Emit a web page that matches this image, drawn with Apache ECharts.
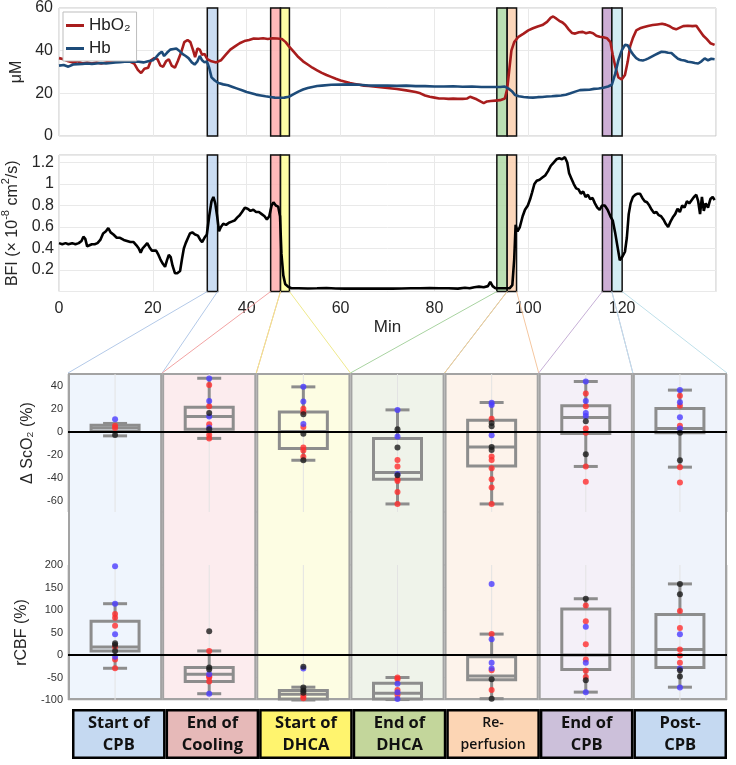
<!DOCTYPE html>
<html><head><meta charset="utf-8">
<script src="https://cdn.jsdelivr.net/npm/echarts@6/dist/echarts.min.js"></script>
<style>html,body{margin:0;padding:0;background:#fff}#c{width:736px;height:765px}</style>
</head><body><div id="c"></div>
<script>
// ---------- DATA ----------
const hbo2 = [[0,36.5],[1,36],[2,35],[3,34.5],[4,35],[5,34],[6,34.5],[7,34],[8,34.5],[9,34],[10,34.5],[11,35],[12,35],[13,35.5],[14,35],[15,35],[16,34],[16.8,31],[17.5,29.5],[18.2,31.5],[19,32],[19.6,35.5],[20.3,36.5],[21,36],[21.6,33],[22.2,32.5],[22.8,35],[23.4,36],[24,33],[24.7,32],[25.3,35],[26,39],[26.7,44],[27.4,45],[28,44],[28.6,40],[29,37],[29.5,41],[30,40.5],[30.5,38],[31,38.5],[31.6,36],[32.5,35],[33.5,34.5],[34.5,35.5],[35.5,38],[36.5,40.5],[37.5,42],[38.5,43.5],[39.5,44.5],[40.5,45],[41.5,45.7],[42.5,45.6],[43.5,45.8],[44.5,45.5],[45.5,45.8],[46.5,45.7],[47.5,45.5],[48.3,44],[49,42],[50,39.5],[51,37],[52,35],[53,33.5],[54,32],[55,30.8],[56,29.6],[57,28.6],[58,27.7],[59,26.8],[60,26],[61,25.4],[62,24.8],[63,24.4],[64,24],[65,23.6],[66,23.4],[68,23],[70,22.5],[72,22],[74,21.4],[76,20.6],[77,20],[78,19],[79,18.4],[80,18],[81,17.6],[82,17.6],[83,17.4],[84,17.5],[85,17.4],[86,17.4],[87,17.6],[87.6,18.4],[88.3,17.8],[89,17.2],[89.8,16.2],[90.5,15.4],[91.2,16.2],[92,16.4],[93,16.6],[94,16.8],[95,17.6],[95.5,22],[95.9,30],[96.4,40],[97,44],[97.9,46.5],[99,48],[100,49.5],[101,50.5],[102,51.3],[103,52],[104,53.5],[104.8,55.5],[105.3,56],[106,55],[106.6,54],[107.3,53.2],[107.9,52],[108.6,50],[109.3,48.3],[110,48],[110.8,48.6],[111.6,48.8],[112.3,48.2],[113.1,48.6],[113.8,48.2],[114.5,47],[115.2,46.5],[116,46.3],[116.8,45.8],[117.5,44],[118,38],[118.6,32],[119.2,27.5],[119.9,26.5],[120.6,28.6],[121.2,35],[121.7,42],[122.3,46],[123,49.5],[123.8,50.5],[124.5,51],[125.5,51.6],[126.5,52],[127.5,52.3],[128.5,52.6],[129.3,52.2],[130,51.6],[130.8,50.5],[131.5,50],[132.3,50.8],[133,51.5],[134,51.7],[135,51.5],[135.8,51.7],[136.5,49.5],[137.3,47],[138,45.5],[138.8,43.5],[139.7,42.7]];
const hb = [[0,33],[1,33.3],[2,32.5],[3,33.5],[4,33.7],[5,33.8],[6,34],[7,33.8],[8,34],[9,34.2],[10,34],[11,34.2],[12,34.5],[13,34.6],[14,34.8],[15,35],[16,34.8],[17,34.8],[18,34.5],[19,35],[20,35.5],[20.7,37],[21.3,38.5],[21.9,39.5],[22.4,37.5],[23,39],[23.7,40.5],[24.4,40.8],[25,41],[25.6,40],[26.3,38.5],[27,37.5],[27.6,36.5],[28.3,34.5],[28.9,33.5],[29.5,35],[30,37.5],[30.5,35.5],[31,34.5],[31.5,35],[32,32],[32.5,27.5],[33.2,26],[34,24.8],[35,24.2],[36,23.8],[37,23],[38,22.2],[39,21.4],[40,20.6],[41,20],[42,19.4],[43,19],[44,18.6],[45,18.3],[46,18],[47,17.9],[48,18],[49,18.4],[50,19.6],[51,20.8],[52,21.8],[53,22.5],[54,23],[55,23.4],[56,23.6],[58,24],[60,24.1],[62,24.2],[64,24],[66,23.7],[68,23.6],[70,23.6],[72,23.5],[74,23.6],[76,23.4],[78,23.4],[80,23.2],[82,23.2],[84,23.3],[86,23.1],[88,23.2],[90,23],[92,23],[94,23],[95,23.2],[95.8,22.2],[96.5,21],[97.2,19.2],[98,18.6],[99,18.3],[100,18.1],[101,18],[102,18.2],[103,18.3],[104,18.5],[105,18.6],[106,18.8],[107,19],[108,19.3],[109,20],[110,20.8],[111,21.5],[112,21.6],[113,21.7],[114,22.1],[115,22.3],[116,22.6],[117,23.2],[117.8,24],[118.5,29],[119.2,35.5],[119.9,40],[120.6,42.7],[121.2,42.5],[121.8,40],[122.4,38],[123,36.5],[123.7,35.6],[124.4,35.4],[125,35.8],[125.6,36.4],[126.3,37.2],[127,38],[127.7,38.8],[128.4,39.5],[129.1,39.4],[129.8,39],[130.5,38.9],[131.2,37.5],[131.9,36.2],[132.6,35.6],[133.3,35.4],[134,34.8],[134.8,34.6],[135.5,34.2],[136.2,34],[136.9,35],[137.6,36.4],[138.3,35.5],[139,36.2],[139.7,36]];
const bfi = [[0,0.45],[0.7,0.44],[1.4,0.45],[2,0.44],[2.8,0.45],[3.5,0.44],[4.2,0.45],[4.8,0.47],[5.2,0.51],[5.6,0.49],[6,0.42],[6.5,0.43],[7,0.44],[7.6,0.44],[8.2,0.45],[8.8,0.48],[9.4,0.54],[10,0.56],[10.5,0.59],[11,0.55],[11.6,0.53],[12.3,0.5],[13,0.5],[13.8,0.48],[14.5,0.47],[15.2,0.46],[15.9,0.46],[16.5,0.43],[17,0.4],[17.4,0.36],[17.8,0.4],[18.4,0.43],[18.8,0.45],[19.3,0.41],[19.8,0.38],[20.2,0.37],[20.7,0.38],[21.2,0.34],[21.6,0.3],[22.1,0.26],[22.6,0.23],[23,0.29],[23.4,0.34],[23.8,0.32],[24.2,0.24],[24.7,0.17],[25.2,0.17],[25.8,0.19],[26.2,0.3],[26.6,0.4],[27,0.45],[27.5,0.5],[27.9,0.54],[28.4,0.55],[29,0.53],[29.6,0.52],[30.1,0.48],[30.5,0.46],[31,0.5],[31.5,0.53],[32,0.7],[32.5,0.84],[32.9,0.88],[33.3,0.82],[33.7,0.7],[34.1,0.56],[34.5,0.6],[35,0.63],[35.6,0.62],[36.2,0.64],[36.8,0.65],[37.4,0.66],[38,0.69],[38.5,0.71],[39,0.74],[39.6,0.78],[40.2,0.77],[40.8,0.75],[41.4,0.76],[42,0.74],[42.6,0.74],[43.2,0.72],[43.8,0.7],[44.3,0.67],[44.8,0.7],[45.3,0.8],[45.7,0.83],[46.2,0.8],[46.7,0.79],[47.1,0.7],[47.4,0.35],[47.8,0.15],[48.2,0.07],[48.8,0.045],[49.5,0.03],[51,0.03],[53,0.028],[55,0.03],[57,0.033],[59,0.028],[61,0.027],[63,0.027],[65,0.027],[67,0.028],[69,0.027],[71,0.027],[73,0.028],[75,0.03],[77,0.03],[79,0.032],[81,0.03],[83,0.03],[85,0.027],[86.5,0.035],[87.5,0.03],[88.5,0.04],[89.5,0.045],[90.5,0.04],[91.4,0.05],[91.9,0.09],[92.4,0.05],[93,0.03],[94,0.03],[95,0.03],[96,0.03],[96.6,0.06],[97,0.3],[97.3,0.62],[97.7,0.56],[98.2,0.6],[98.8,0.7],[99.3,0.76],[99.9,0.8],[100.4,0.86],[100.8,0.92],[101.3,1.0],[101.8,1.03],[102.4,1.04],[103,1.06],[103.6,1.08],[104.2,1.12],[104.8,1.17],[105.4,1.2],[106,1.23],[106.6,1.24],[107.2,1.23],[107.8,1.25],[108.3,1.2],[108.7,1.1],[109.2,1.05],[109.7,1.0],[110.2,0.96],[110.7,0.95],[111.2,0.91],[111.7,0.93],[112.2,0.88],[112.7,0.9],[113.2,0.86],[113.7,0.87],[114.2,0.82],[114.7,0.78],[115.2,0.76],[115.7,0.8],[116.3,0.8],[116.9,0.76],[117.5,0.7],[118,0.66],[118.5,0.55],[119,0.42],[119.5,0.29],[120,0.32],[120.6,0.37],[121,0.5],[121.4,0.72],[121.8,0.82],[122.3,0.88],[122.8,0.9],[123.3,0.91],[123.8,0.91],[124.3,0.87],[124.8,0.84],[125.3,0.83],[125.8,0.8],[126.3,0.76],[126.8,0.73],[127.3,0.74],[127.8,0.71],[128.3,0.7],[128.8,0.67],[129.3,0.63],[129.8,0.6],[130.3,0.65],[130.8,0.69],[131.3,0.72],[131.8,0.77],[132.3,0.74],[132.8,0.8],[133.3,0.78],[133.8,0.84],[134.3,0.82],[134.8,0.85],[135.3,0.88],[135.8,0.9],[136.2,0.84],[136.6,0.72],[137,0.88],[137.4,0.75],[137.8,0.82],[138.3,0.78],[138.8,0.86],[139.3,0.88],[139.7,0.85]];

const eventStart = [31.6, 45.1, 47.2, 93.3, 95.5, 115.8, 117.8];
const eventEnd   = [33.8, 47.2, 49.1, 95.5, 97.5, 117.8, 120.0];

const categories = ['Start of\nCPB','End of\nCooling','Start of\nDHCA','End of\nDHCA','Re-\nperfusion','End of\nCPB','Post-\nCPB'];

// box stats: [col, min, q1, median, q3, max]
const scoBox = [[0,-3.8,0,3,5.5,7],[1,-6,2,13,21,46.3],[2,-25,-14.8,0,17,38.8],[3,-63,-41.5,-35.7,-6,18.8],[4,-63,-30,-13.4,9.8,25.2],[5,-30.4,-1.8,12.2,22.3,43.5],[6,-31,-1,2.6,20,36]];
const rcbfBox = [[0,-29.5,9,18,75,114],[1,-86,-59,-43,-28,9],[2,-100,-98,-87,-79,-71.5],[3,-99,-98,-85,-63,-50],[4,-97,-55,-46.5,-4,46.5],[5,-82.5,-32,0,102,125],[6,-71.5,-28,12,90,158]];

const scoRed = [[0,5],[0,3],[1,40.5],[1,22],[1,6.3],[1,-3],[1,-6],[2,19.8],[2,17],[2,4],[2,-14],[2,-16.5],[2,-22],[3,-24.7],[3,-30.5],[3,-41.5],[3,-43],[3,-52.5],[3,-63],[4,11],[4,-21.8],[4,-24.7],[4,-32],[4,-41.5],[4,-48.7],[4,-63],[5,33],[5,22],[5,2.6],[5,-1],[5,-30.4],[5,-43.8],[6,31],[6,22.3],[6,5],[6,-31],[6,-44.3]];
const scoBlue = [[0,10.7],[1,46],[1,26.6],[1,13],[1,3.5],[2,39],[2,26],[2,6.5],[3,18.8],[3,-4.4],[3,-37],[4,25],[4,23],[4,-3.2],[5,43.5],[5,26.6],[5,16],[5,13.5],[6,36],[6,25.5],[6,12.5],[6,2.6]];
const scoBlack = [[0,-3],[1,16],[1,2],[2,15],[2,-2],[2,-25],[3,2],[3,-14],[3,-38],[4,7.5],[4,4.5],[4,-13.5],[4,-16],[5,9],[5,-19.7],[6,-1],[6,-25]];

const rcbfRed = [[0,91],[0,83],[0,65],[0,18],[0,-10],[0,-29.5],[1,9],[1,-47],[1,-50],[1,-59],[2,-91],[2,-96],[3,-50],[3,-54],[3,-78],[3,-89],[4,46.5],[4,-34],[4,-78],[5,110],[5,75],[5,24],[5,-10],[5,-35],[5,-49],[6,98],[6,60],[6,12],[6,-1],[6,-17]];
const rcbfBlue = [[0,197],[0,114],[0,46],[0,-4],[1,-43],[1,-86],[2,-30],[3,-64],[3,-83],[3,-98],[4,158],[4,35],[4,-17],[4,-30],[5,63],[5,-17],[5,-82.5],[6,46],[6,-30],[6,-72]];
const rcbfBlack = [[0,26],[0,22],[0,9],[1,53],[1,-28],[1,-32],[2,-26],[2,-72],[2,-79],[2,-84],[4,-54],[4,-97],[5,125],[5,-56],[6,158],[6,135],[6,-34],[6,-48]];

// ---------- STYLE ----------
const evFill = ['rgba(190,212,240,0.8)','rgba(255,168,168,0.8)','rgba(255,255,150,0.85)','rgba(170,215,160,0.8)','rgba(251,208,175,0.85)','rgba(196,160,206,0.85)','rgba(205,234,242,0.85)'];
const linkColor = ['#b3c9e8','#f2a3a3','#efe98c','#a8d3a0','#f5c7a0','#c6afd6','#bfe0ea'];
const colBg = ['#eff5fd','#fcecee','#fdfde3','#eff3ea','#fdf3eb','#f4f0f8','#eff3fb'];
const labelBg = ['#c5d9f1','#e6b9b8','#fff46e','#c3d69b','#fcd5b4','#ccc0da','#c5d9f1'];
const FONT = '"Liberation Sans", Arial, sans-serif';
const tickColor = '#262626';
const frame = '#c4c4c4';
const gridLine = '#e9e9e9';
const redLine = '#a81d1d', blueLine = '#1d4b79';

function boxRender(params, api) {
  const i = api.value(0);
  const pt = k => api.coord([i, api.value(k)]);
  const pMin = pt(1), pQ1 = pt(2), pMed = pt(3), pQ3 = pt(4), pMax = pt(5);
  const x = pMin[0], hw = 24, cw = 12;
  const cs = params.coordSys;
  const st = {stroke:'#8d8d8d', lineWidth:3, fill:'none'};
  return {type:'group', children:[
    {type:'line', shape:{x1:x,y1:cs.y,x2:x,y2:cs.y+cs.height}, style:{stroke:'#e3e3e3',lineWidth:1}, z2:0},
    {type:'line', shape:{x1:x,y1:pQ3[1],x2:x,y2:pMax[1]}, style:st, z2:1},
    {type:'line', shape:{x1:x,y1:pQ1[1],x2:x,y2:pMin[1]}, style:st, z2:1},
    {type:'line', shape:{x1:x-cw,y1:pMax[1],x2:x+cw,y2:pMax[1]}, style:st, z2:1},
    {type:'line', shape:{x1:x-cw,y1:pMin[1],x2:x+cw,y2:pMin[1]}, style:st, z2:1},
    {type:'rect', shape:{x:x-hw,y:pQ3[1],width:2*hw,height:pQ1[1]-pQ3[1]}, style:st, z2:1},
    {type:'line', shape:{x1:x-hw,y1:pMed[1],x2:x+hw,y2:pMed[1]}, style:st, z2:1}
  ]};
}

const eventAreas = eventStart.map((s, i) => [{xAxis:s, itemStyle:{color:evFill[i]}}, {xAxis:eventEnd[i]}]);
const markAreaCfg = {silent:true, itemStyle:{borderColor:'#111', borderWidth:1.5}, data:eventAreas};
const zeroLine = {symbol:'none', silent:true, label:{show:false}, lineStyle:{color:'#000', width:2, type:'solid'}, data:[{yAxis:0}]};

const legendText = {fontSize:17, color:'#222', fontFamily:FONT};
const G = {outerBoundsMode:'none', containLabel:false};
const option = {
  animation:false,
  textStyle:{fontFamily:FONT},
  legend:[
    {data:[{name:'HbO2', icon:'rect'}], left:63, top:12, itemWidth:18, itemHeight:3,
      backgroundColor:'#fff', borderColor:'#bdbdbd', borderWidth:1, padding:[5,6,27,3],
      formatter: () => 'HbO₂', textStyle:legendText, z:10},
    {data:[{name:'Hb', icon:'rect'}], left:66, top:40, itemWidth:18, itemHeight:3, padding:0, textStyle:legendText, z:11}
  ],
  grid:[
    Object.assign({left:59, top:8, width:657, height:128, show:true, borderColor:frame, borderWidth:1}, G),
    Object.assign({left:59, top:155, width:657, height:136.5, show:true, borderColor:frame, borderWidth:1}, G),
    Object.assign({left:68, top:373, width:659, height:327}, G),
    Object.assign({left:68, top:374, width:659, height:138, show:true, borderColor:frame, borderWidth:1}, G),
    Object.assign({left:68, top:565, width:659, height:135, show:true, borderColor:frame, borderWidth:1}, G),
    Object.assign({left:72, top:709, width:655, height:50}, G)
  ],
  xAxis:[
    {type:'value', gridIndex:0, min:0, max:140, interval:20, axisLabel:{show:false}, axisTick:{show:false}, axisLine:{show:false}, splitLine:{lineStyle:{color:gridLine}}},
    {type:'value', gridIndex:1, min:0, max:140, interval:20, axisTick:{show:false}, axisLine:{show:false},
      splitLine:{lineStyle:{color:gridLine}},
      axisLabel:{fontSize:16, color:tickColor, margin:9, formatter:v => v >= 140 ? '' : String(v)},
      name:'Min', nameLocation:'middle', nameGap:27, nameTextStyle:{fontSize:17, color:tickColor}},
    {type:'category', gridIndex:2, data:categories, show:false},
    {type:'category', gridIndex:3, data:categories, axisLabel:{show:false}, axisTick:{show:false}, axisLine:{show:false}, splitLine:{show:false}},
    {type:'category', gridIndex:4, data:categories, axisLabel:{show:false}, axisTick:{show:false}, axisLine:{show:false}, splitLine:{show:false}},
    {type:'category', gridIndex:5, data:categories, show:false}
  ],
  yAxis:[
    {type:'value', gridIndex:0, min:0, max:60, interval:20, axisTick:{show:false}, axisLine:{show:false},
      splitLine:{lineStyle:{color:gridLine}}, axisLabel:{fontSize:16, color:tickColor, margin:6},
      name:'μM', nameLocation:'middle', nameGap:26, nameTextStyle:{fontSize:16, color:tickColor}},
    {type:'value', gridIndex:1, min:0, max:1.27, interval:0.2, axisTick:{show:false}, axisLine:{show:false},
      splitLine:{lineStyle:{color:gridLine}},
      axisLabel:{fontSize:16, color:tickColor, margin:5, formatter:v => (v < 0.1 || v > 1.25) ? '' : String(+v.toFixed(1))},
      name:'{a|BFI (× 10}{s|-8}{a| cm}{s|2}{a|/s)}', nameLocation:'middle', nameGap:28,
      nameTextStyle:{fontSize:16, color:tickColor, rich:{
        a:{fontSize:16, color:tickColor, fontFamily:FONT, lineHeight:20, verticalAlign:'bottom'},
        s:{fontSize:11, color:tickColor, fontFamily:FONT, lineHeight:20, verticalAlign:'top'}}}},
    {type:'value', gridIndex:2, min:0, max:1, show:false},
    {type:'value', gridIndex:3, min:-70, max:50, interval:10, axisTick:{show:false}, axisLine:{show:false},
      splitLine:{show:false},
      axisLabel:{fontSize:11, color:'#333', margin:5, formatter:v => (Math.round(v) % 20 === 0 && v < 50) ? String(Math.round(v)) : ''},
      name:'Δ ScO₂ (%)', nameLocation:'middle', nameGap:32, nameTextStyle:{fontSize:16, color:tickColor}},
    {type:'value', gridIndex:4, min:-100, max:200, interval:50, axisTick:{show:false}, axisLine:{show:false},
      splitLine:{lineStyle:{color:'#e6e6e6'}},
      axisLabel:{fontSize:11, color:'#333', margin:5},
      name:'rCBF (%)', nameLocation:'middle', nameGap:30, nameTextStyle:{fontSize:16, color:tickColor}},
    {type:'value', gridIndex:5, min:0, max:1, show:false}
  ],
  series:[
    {name:'HbO2', type:'line', xAxisIndex:0, yAxisIndex:0, data:hbo2, showSymbol:false, symbol:'none', lineStyle:{color:redLine, width:2.6}, itemStyle:{color:redLine}, z:2},
    {name:'Hb', type:'line', xAxisIndex:0, yAxisIndex:0, data:hb, showSymbol:false, symbol:'none', lineStyle:{color:blueLine, width:2.6}, itemStyle:{color:blueLine}, z:2},
    {name:'ev0', type:'line', xAxisIndex:0, yAxisIndex:0, data:[], z:5, markArea:markAreaCfg},
    {name:'BFI', type:'line', xAxisIndex:1, yAxisIndex:1, data:bfi, showSymbol:false, symbol:'none', lineStyle:{color:'#000', width:2.6}, z:2},
    {name:'ev1', type:'line', xAxisIndex:1, yAxisIndex:1, data:[], z:5, markArea:markAreaCfg},
    {name:'bg', type:'bar', xAxisIndex:2, yAxisIndex:2, barWidth:'100%', silent:true, z:0,
      data: colBg.map(c => ({value:1, itemStyle:{color:c}})),
      itemStyle:{borderColor:'#a3a3a3', borderWidth:2}},
    {name:'scoBox', type:'custom', xAxisIndex:3, yAxisIndex:3, data:scoBox, renderItem:boxRender, z:2},
    {name:'scoRed', type:'scatter', xAxisIndex:3, yAxisIndex:3, data:scoRed, symbolSize:6, itemStyle:{color:'#ff2e2e'}, z:4},
    {name:'scoBlue', type:'scatter', xAxisIndex:3, yAxisIndex:3, data:scoBlue, symbolSize:6, itemStyle:{color:'#4b3cff'}, z:4},
    {name:'scoBlack', type:'scatter', xAxisIndex:3, yAxisIndex:3, data:scoBlack, symbolSize:6, itemStyle:{color:'#1c1c1c'}, z:4, markLine:zeroLine},
    {name:'rcbfBox', type:'custom', xAxisIndex:4, yAxisIndex:4, data:rcbfBox, renderItem:boxRender, z:2},
    {name:'rcbfRed', type:'scatter', xAxisIndex:4, yAxisIndex:4, data:rcbfRed, symbolSize:6, itemStyle:{color:'#ff2e2e'}, z:4},
    {name:'rcbfBlue', type:'scatter', xAxisIndex:4, yAxisIndex:4, data:rcbfBlue, symbolSize:6, itemStyle:{color:'#4b3cff'}, z:4},
    {name:'rcbfBlack', type:'scatter', xAxisIndex:4, yAxisIndex:4, data:rcbfBlack, symbolSize:6, itemStyle:{color:'#1c1c1c'}, z:4, markLine:zeroLine},
    {name:'labels', type:'bar', xAxisIndex:5, yAxisIndex:5, barWidth:'100%', silent:true,
      data: labelBg.map(c => ({value:1, itemStyle:{color:c}})),
      itemStyle:{borderColor:'#000', borderWidth:2.5},
      label:{show:true, position:'inside',
        formatter: p => {
          const lines = categories[p.dataIndex].split('\n');
          const k = p.dataIndex === 4 ? 's' : 'b';
          return lines.map(l => '{' + k + '|' + l + '}').join('\n');
        },
        rich:{
          b:{fontFamily:'"Open Sans", sans-serif', fontWeight:'bold', fontSize:16.5, lineHeight:22, color:'#111'},
          s:{fontFamily:'"Open Sans", sans-serif', fontWeight:600, fontSize:14, lineHeight:22, color:'#111'}
        }}}
  ]
};

const chart = echarts.init(document.getElementById('c'), null, {renderer:'canvas'});
chart.setOption(option);

// connector lines from event windows (BFI panel bottom) to box-plot columns
const links = [];
const c0 = chart.convertToPixel({xAxisIndex:2, yAxisIndex:2}, [categories[0], 1]);
const c1 = chart.convertToPixel({xAxisIndex:2, yAxisIndex:2}, [categories[1], 1]);
const bw = c1[0] - c0[0];
eventStart.forEach((s, i) => {
  const pl = chart.convertToPixel({xAxisIndex:1, yAxisIndex:1}, [s, 0]);
  const pr = chart.convertToPixel({xAxisIndex:1, yAxisIndex:1}, [eventEnd[i], 0]);
  const cc = chart.convertToPixel({xAxisIndex:2, yAxisIndex:2}, [categories[i], 1]);
  links.push({type:'line', silent:true, z:1, shape:{x1:pl[0], y1:pl[1], x2:cc[0]-bw/2, y2:cc[1]}, style:{stroke:linkColor[i], lineWidth:1}});
  links.push({type:'line', silent:true, z:1, shape:{x1:pr[0], y1:pr[1], x2:cc[0]+bw/2, y2:cc[1]}, style:{stroke:linkColor[i], lineWidth:1}});
});
chart.setOption({graphic: links});
</script>
</body></html>
